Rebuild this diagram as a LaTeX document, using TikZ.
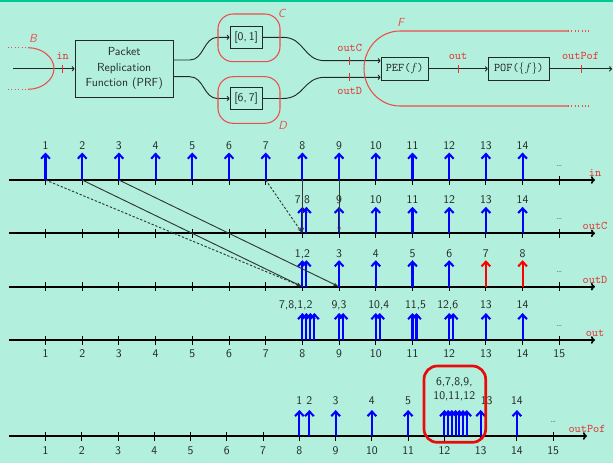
\documentclass[tikz,border=0pt]{standalone}
\usetikzlibrary{arrows.meta,calc}
\definecolor{bgc}{RGB}{178,240,221}
\definecolor{topg}{RGB}{0,200,145}
\definecolor{redt}{RGB}{228,50,50}
\definecolor{redz}{RGB}{238,75,75}
\definecolor{dk}{RGB}{35,40,38}
\definecolor{conc}{RGB}{50,55,53}
\definecolor{redbox}{RGB}{235,10,10}
\begin{document}
\begin{tikzpicture}[x=0.03cm,y=-0.03cm,font=\sffamily,
  boxst/.style={draw=dk,line width=0.8pt,inner sep=1pt,text=dk},
  flow/.style={draw=dk,line width=0.8pt,-{To[length=2.5pt,width=4.5pt]}},
  redtick/.style={draw=redt,line width=0.8pt},
  plab/.style={text=redt,font=\ttfamily,anchor=base},
  zone/.style={draw=redz,line width=0.9pt},
  zlab/.style={text=redz,font=\sffamily\itshape,anchor=base},
  axisln/.style={draw=black,line width=1.5pt,-{To[length=3.5pt,width=6.5pt]}},
  tickln/.style={draw=black,line width=0.7pt},
  pk/.style={draw=blue,line width=1.75pt,-{Straight Barb[length=4pt,width=7.5pt]}},
  pkr/.style={pk,draw=red},
  numl/.style={anchor=base,text=dk},
  conn/.style={draw=conc,line width=0.8pt,-{Stealth[length=4pt,width=3pt]},shorten >=1pt},
  dashc/.style={dash pattern=on 2pt off 1.5pt},
  dotl/.style={anchor=base,font=\scriptsize,text=dk}
]
% background
\fill[bgc] (0,0) rectangle (613,463);
\useasboundingbox (0,0) rectangle (613,463);
\fill[topg] (0,0) rectangle (613,1.6);

% ---------------- top diagram ----------------
\node[boxst,minimum width=2.95cm,minimum height=1.72cm,align=center,
      font=\sffamily\fontsize{10}{13.3}\selectfont] (prf) at (124.2,68.7)
      {Packet\\Replication\\Function (PRF)};
\node[boxst,minimum width=0.97cm,minimum height=0.65cm] (c01) at (246.2,37.3) {[0,\,1]};
\node[boxst,minimum width=0.97cm,minimum height=0.65cm] (c67) at (246.2,98.5) {[6,\,7]};
\node[boxst,minimum width=1.42cm,minimum height=0.67cm] (pef) at (404.7,68.8) {\texttt{PEF(}$f$\texttt{)}};
\node[boxst,minimum width=1.83cm,minimum height=0.67cm] (pof) at (518.8,68.8) {\texttt{POF(}$\{f\}$\texttt{)}};

% input
\coordinate (src) at (13,68.7);
\draw[flow] (src) -- (prf.west);
\draw[redtick] (62.7,64.7) -- (62.7,72.7);
\node[plab] (lin) at (62.7,59.3) {in};

% PRF -> boxes
\draw[flow] ($(prf.east)+(0,-8.7)$) -- ++(16,0) .. controls +(14,0) and +(-14,0) .. ($(c01.west)+(-12,0)$) -- (c01.west);
\draw[flow] ($(prf.east)+(0,8)$) -- ++(16,0) .. controls +(14,0) and +(-14,0) .. ($(c67.west)+(-12,0)$) -- (c67.west);

% boxes -> PEF
\coordinate (jC) at (325,60.7);
\coordinate (jD) at (325,77.3);
\draw[flow] (c01.east) -- ++(20,0) .. controls +(22,0) and +(-22,0) .. (jC) -- ($(pef.west)+(0,-8.1)$);
\draw[flow] (c67.east) -- ++(20,0) .. controls +(22,0) and +(-22,0) .. (jD) -- ($(pef.west)+(0,8.5)$);
\draw[redtick] (349.3,56.7) -- (349.3,64.7);
\draw[redtick] (349.3,73.3) -- (349.3,81.3);
\node[plab] at (349.7,51.7) {outC};
\node[plab] at (349.7,94) {outD};

% PEF -> POF -> out
\coordinate (fin) at (612,68.8);
\draw[flow] (pef.east) -- (pof.west);
\draw[flow] (pof.east) -- (fin);
\draw[redtick] (458,64.8) -- (458,72.8);
\draw[redtick] (581,64.8) -- (581,72.8);
\node[plab] at (458,59.3) {out};
\node[plab] at (580.5,59.3) {outPof};

% red zones
\draw[zone,dotted] (8,47.7) -- (28,47.7);
\draw[zone,dotted] (8,89.3) -- (28,89.3);
\draw[zone] (28,47.7) .. controls (42.5,47.7) and (54,57.5) .. (54,68.5)
                    .. controls (54,79.5) and (42.5,89.3) .. (28,89.3);
\node[zlab] at (33,42.7) {B};

\draw[zone,rounded corners=0.45cm] (218,14) rectangle (280,61.7);
\node[zlab] at (281.7,17.3) {C};
\draw[zone,rounded corners=0.45cm] (218,76.7) rectangle (280,123.3);
\node[zlab] at (282.7,129) {D};

\draw[zone] (568,31) -- (400,31) .. controls (380,31) and (364,48) .. (364,68.5)
            .. controls (364,89) and (380,106) .. (400,106) -- (568,106);
\draw[zone,dotted] (568,31) -- (590,31);
\draw[zone,dotted] (568,106) -- (590,106);
\node[zlab] at (400.7,26.7) {F};

% ---------------- timelines ----------------
\foreach \nm/\yy in {in/180,outC/233.3,outD/286.7,out/340}{
  \foreach \n in {1,...,15}{
    \coordinate (\nm-\n) at ({8.8+36.7*\n},\yy);
  }
  \coordinate (\nm-s) at (9,\yy);
  \coordinate (\nm-e) at (595,\yy);
}
\foreach \n in {1,...,15}{
  \coordinate (outPof-\n) at ({9.4+36.25*\n},436);
}
\coordinate (outPof-s) at (9,436);
\coordinate (outPof-e) at (587,436);

% axes, ticks, labels at ends, dots
\foreach \nm in {in,outC,outD,out,outPof}{
  \draw[axisln] (\nm-s) -- (\nm-e);
  \foreach \n in {1,...,15}{
    \draw[tickln] ($(\nm-\n)+(0,-4.5)$) -- ($(\nm-\n)+(0,4.5)$);
  }
  \node[plab] at ($(\nm-e)+(0,-3.6)$) {\nm};
  \node[dotl] at ($(\nm-15)+(0,-14)$) {\ldots};
}

% tick labels below
\foreach \n in {1,...,15}{
  \node[numl] at ($(out-\n)+(0,17.5)$) {\n};
  \node[numl] at ($(outPof-\n)+(0,18)$) {\n};
}

% packets on "in"
\foreach \n in {1,...,14}{
  \draw[pk] (in-\n) -- ++(0,-27.5);
  \node[numl] at ($(in-\n)+(0,-31)$) {\n};
}

% packets on "outC"
\draw[pk] (outC-8) -- ++(0,-26.5);
\draw[pk] ($(outC-8)+(4,0)$) -- ++(0,-26.5);
\node[numl] at ($(outC-8)+(0,-30.3)$) {7,8};
\foreach \n in {9,...,14}{
  \draw[pk] (outC-\n) -- ++(0,-26.5);
  \node[numl] at ($(outC-\n)+(0,-30.3)$) {\n};
}

% packets on "outD"
\draw[pk] (outD-8) -- ++(0,-26.5);
\draw[pk] ($(outD-8)+(4,0)$) -- ++(0,-26.5);
\node[numl] at ($(outD-8)+(0,-29.7)$) {1,2};
\foreach \n/\m in {9/3,10/4,11/5,12/6}{
  \draw[pk] (outD-\n) -- ++(0,-26.5);
  \node[numl] at ($(outD-\n)+(0,-29.7)$) {\m};
}
\foreach \n/\m in {13/7,14/8}{
  \draw[pkr] (outD-\n) -- ++(0,-26.5);
  \node[numl] at ($(outD-\n)+(0,-29.7)$) {\m};
}

% packets on "out"
\foreach \k in {0,4,8,12}{
  \draw[pk] ($(out-8)+(\k,0)$) -- ++(0,-27);
}
\node[numl] at ($(out-8)+(-6.6,-32)$) {7,8,1,2};
\foreach \n/\m/\l in {9/3/0,10/4/3,11/5/3,12/6/-1.5}{
  \draw[pk] (out-\n) -- ++(0,-27);
  \draw[pk] ($(out-\n)+(4,0)$) -- ++(0,-27);
  \node[numl] at ($(out-\n)+(\l,-32)$) {\n,\m};
}
\foreach \n in {13,14}{
  \draw[pk] (out-\n) -- ++(0,-27);
  \node[numl] at ($(out-\n)+(0,-32)$) {\n};
}

% packets on "outPof"
\draw[pk] (outPof-8) -- ++(0,-26);
\node[numl] at ($(outPof-8)+(0,-32)$) {1};
\draw[pk] ($(outPof-8)+(10,0)$) -- ++(0,-26);
\node[numl] at ($(outPof-8)+(10,-32)$) {2};
\foreach \n/\m in {9/3,10/4,11/5,14/14}{
  \draw[pk] (outPof-\n) -- ++(0,-26);
  \node[numl] at ($(outPof-\n)+(0,-32)$) {\m};
}
\foreach \k in {0,1,...,6}{
  \draw[pk] ($(outPof-12)+(3.73*\k,0)$) -- ++(0,-26);
}
\draw[pk] (outPof-13) -- ++(0,-26);
\node[numl] at ($(outPof-13)+(6,-32)$) {13};
\node[numl] at (454.3,385) {6,7,8,9,};
\node[numl] at (454.3,399.3) {10,11,12};

% connectors between timelines
\draw[conn,dashc] (in-1) -- (outD-8);
\draw[conn] (in-2) -- (outD-8);
\draw[conn] (in-3) -- (outD-9);
\draw[conn,dashc] (in-7) -- (outC-8);
\draw[conn] (in-8) -- (outC-8);
\draw[conn] (in-9) -- (outC-9);

% highlight box
\draw[draw=redbox,line width=2.3pt,rounded corners=0.4cm] (424,366) rectangle (485.7,442.3);
\end{tikzpicture}
\end{document}
